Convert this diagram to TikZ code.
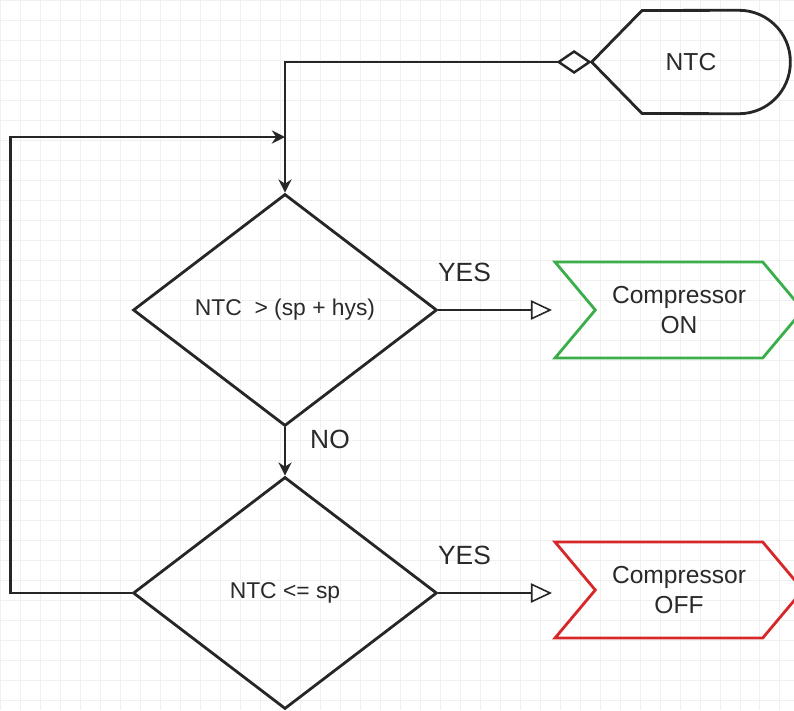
\documentclass[tikz,border=0pt]{standalone}
\usepackage{fontspec}
\setmainfont{Liberation Sans}
\usetikzlibrary{shapes.geometric,shapes.symbols,arrows.meta}
\definecolor{txtgray}{HTML}{2A2A2A}
\definecolor{ongreen}{HTML}{3AAE4A}
\definecolor{offred}{HTML}{D62828}

\begin{document}
\begin{tikzpicture}[
    x=0.02cm, y=-0.02cm,
    every node/.style={font=\fontsize{14}{17.5}\selectfont, text=txtgray},
    gridline/.style={draw=black!6, line width=0.4pt},
    decision/.style={diamond, draw=black!85, line width=1.6pt, minimum width=6.08cm, minimum height=4.64cm, inner sep=0pt, font=\fontsize{13}{16}\selectfont},
    outbox/.style={signal, signal from=west, signal to=east, signal pointer angle=100, line width=1.6pt, minimum width=4.96cm, minimum height=1.92cm, align=center, inner sep=0pt},
    flow/.style={line width=1.4pt, draw=black!85},
    yesline/.style={line width=0.9pt, draw=black!85, -{Triangle[open, length=12pt, width=11pt]}},
    lbl/.style={font=\fontsize{15}{18}\selectfont}
]
\useasboundingbox (0,0) rectangle (794,710);
\draw[gridline, step=0.4cm] (0,0) grid (794,710);

% shapes
\node[minimum width=3.96cm, minimum height=2.06cm] (ntc) at (691,62) {NTC};
\draw[flow, line width=1.6pt] (ntc.west) -- (642,10.5) [rounded corners=1.03cm] -- (ntc.north east) -- (ntc.south east) [sharp corners] -- (642,113.5) -- cycle;

\node[decision] (d1) at (285,310) {NTC\ \ > (sp + hys)};
\node[decision] (d2) at (285,593) {NTC <= sp};
\node[outbox, draw=ongreen] (on) at (679,310) {Compressor\\ON};
\node[outbox, draw=offred] (off) at (679,590) {Compressor\\OFF};

\coordinate (join) at (d1.north |- 0,137);
\coordinate (onin) at (552,310);
\coordinate (offin) at (d2.east -| onin);

% connectors
\draw[flow, {Diamond[open, length=20pt, width=13.6pt]}-{Stealth[length=7.5pt, width=7.5pt]}] (ntc.west) -| (d1.north);
\draw[flow, -{Stealth[length=7.5pt, width=7.5pt]}] (d2.west) -- ++(-121,0) |- (join);
\draw[flow, -{Stealth[length=7.5pt, width=7.5pt]}] (d1.south) -- node[lbl, pos=0.25, xshift=0.9cm] (no) {NO} (d2.north);
\draw[yesline] (d1.east) -- node[lbl, pos=0.23, yshift=0.76cm] (yes1) {YES} (onin);
\draw[yesline] (d2.east) -- node[lbl, pos=0.23, yshift=0.76cm] (yes2) {YES} (offin);

\end{tikzpicture}
\end{document}
